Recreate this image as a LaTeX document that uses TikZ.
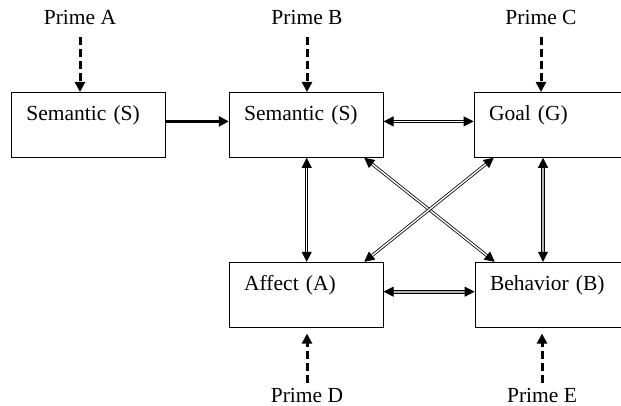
\documentclass[tikz,border=0pt]{standalone}
\usepackage{fontspec}
\setmainfont{Liberation Serif}
\usetikzlibrary{arrows.meta,positioning,calc}

\begin{document}
\begin{tikzpicture}[x=1pt,y=-1pt,
  font=\fontsize{21.5}{25}\selectfont,
  box/.style={draw,line width=0.8pt,inner xsep=15pt,inner ysep=0pt,text width=124pt,align=left,text height=28pt,text depth=37pt},
  prime/.style={inner sep=0pt,anchor=base},
  primearr/.style={-{Triangle[length=10pt,width=10pt]},line width=3pt,dash pattern=on 8pt off 4pt},
  link/.style={{Triangle[length=10pt,width=10pt]}-{Triangle[length=10pt,width=10pt]},line width=0.8pt,double=white,double distance=1.4pt},
  greylink/.style={link,double=gray!60,double distance=2pt},
  main/.style={-{Triangle[length=10pt,width=10pt]},line width=2.7pt}
]
  \clip (0,0) rectangle (621,406);
  % boxes
  \node[box,anchor=north west] (sl) at (11,92) {Semantic (S)};
  \node[box,right=63pt of sl] (sm) {Semantic (S)};
  \node[box,right=90pt of sm] (gl) {Goal (G)};
  \node[box,below=104pt of sm] (af) {Affect (A)};
  \node[box,right=91pt of af] (bh) {Behavior (B)};
  % primes
  \node[prime] (pa) at (80,25) {Prime A};
  \node[prime] (pb) at (307,25) {Prime B};
  \node[prime] (pc) at (541,25) {Prime C};
  \node[prime] (pd) at (307,402) {Prime D};
  \node[prime] (pe) at (542,402) {Prime E};
  \draw[primearr,shorten <=12pt] (pa.base) -- (pa.base |- sl.north);
  \draw[primearr,shorten <=12pt] (pb.base) -- (pb.base |- sm.north);
  \draw[primearr,shorten <=12pt] (pc.base) -- (pc.base |- gl.north);
  \draw[primearr,shorten <=5pt,shorten >=6pt] (pd.north) -- (pd.north |- af.south);
  \draw[primearr,shorten <=5pt,shorten >=6pt] (pe.north) -- (pe.north |- bh.south);
  % links
  \draw[main] ([yshift=3.5pt]sl.east) -- ([yshift=3.5pt]sm.west);
  \draw[link] ([yshift=3.5pt]sm.east) -- ([yshift=3.5pt]gl.west);
  \draw[link] ([xshift=0.5pt]sm.south) -- ([xshift=0.5pt]af.north);
  \draw[greylink] ([xshift=-8pt]gl.south) -- ([xshift=-8pt]gl.south |- bh.north);
  \draw[greylink] ([yshift=3pt]af.east) -- ([yshift=3pt]bh.west);
  \draw[link] ($(sm.south west)!0.875!(sm.south east)$) -- ($(bh.north west)!0.13!(bh.north east)$);
  \draw[link] ($(gl.south west)!0.13!(gl.south east)$) -- ($(af.north west)!0.875!(af.north east)$);
\end{tikzpicture}
\end{document}
